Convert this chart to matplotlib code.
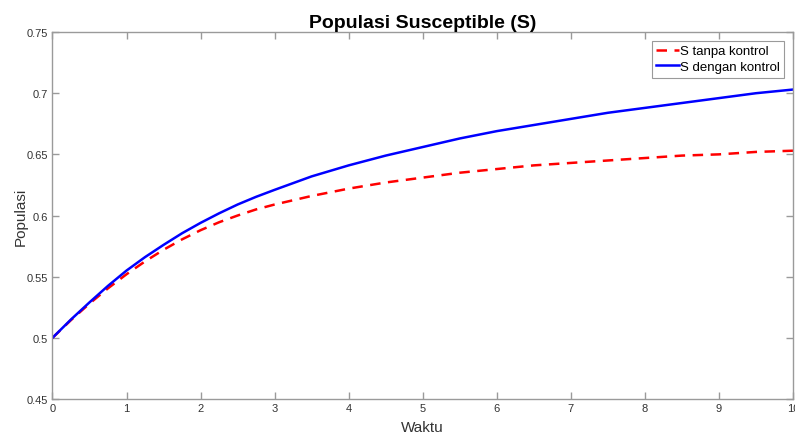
import matplotlib
matplotlib.use('Agg')
from matplotlib import pyplot as plt

# data
waktu = [0, 0.25, 0.5, 0.75, 1, 1.25, 1.5, 1.75, 2, 2.25, 2.5, 2.75, 3, 3.5, 4, 4.5, 5,
         5.5, 6, 6.5, 7, 7.5, 8, 8.5, 9, 9.5, 10]
s_tanpa = [0.500, 0.5145, 0.528, 0.5405, 0.552, 0.5625, 0.572, 0.5805, 0.588, 0.5945, 0.600,
           0.605, 0.609, 0.616, 0.622, 0.627, 0.631, 0.635, 0.638, 0.641, 0.643, 0.645,
           0.647, 0.649, 0.650, 0.652, 0.653]
s_dengan = [0.500, 0.515, 0.529, 0.5425, 0.555, 0.566, 0.576, 0.5855, 0.594, 0.6018, 0.609,
            0.6153, 0.621, 0.632, 0.641, 0.649, 0.656, 0.663, 0.669, 0.674, 0.679, 0.684,
            0.688, 0.692, 0.696, 0.700, 0.703]
xticks = list(range(0, 11))
yticks = [0.45, 0.5, 0.55, 0.6, 0.65, 0.7, 0.75]
ytick_labels = ['0.45', '0.5', '0.55', '0.6', '0.65', '0.7', '0.75']

plt.rcParams['font.family'] = ['Liberation Sans', 'DejaVu Sans']

fig = plt.figure(figsize=(7.95, 4.35), dpi=100)
ax = fig.add_axes([0.066, 0.0805, 0.9315, 0.8435])

ax.plot(waktu, s_tanpa, '--', color='red', linewidth=1.8, dashes=(4.2, 3), label='S tanpa kontrol')
ax.plot(waktu, s_dengan, '-', color='blue', linewidth=1.8, label='S dengan kontrol')

ax.set_xlim(0, 10)
ax.set_ylim(0.45, 0.75)
ax.set_xticks(xticks)
ax.set_yticks(yticks)
ax.set_yticklabels(ytick_labels)

gray = '#9a9a9a'
for sp in ax.spines.values():
    sp.set_color(gray)
    sp.set_linewidth(1.0)
ax.tick_params(direction='in', length=5, width=1, color=gray, labelcolor='#333333',
               labelsize=8, top=True, right=True, pad=3)

ax.set_title('Populasi Susceptible (S)', fontsize=14, fontweight='bold', pad=4)
ax.set_xlabel('Waktu', fontsize=11, color='#333333', labelpad=5)
ax.set_ylabel('Populasi', fontsize=11, color='#333333', labelpad=-1)

leg = ax.legend(loc='upper right', fontsize=9.5, fancybox=False, framealpha=1,
                edgecolor=gray, borderaxespad=0.65, handlelength=1.7,
                handletextpad=0.1, borderpad=0.35, labelspacing=0.25)
leg.get_frame().set_linewidth(0.8)

plt.savefig('out.png', dpi=100)
